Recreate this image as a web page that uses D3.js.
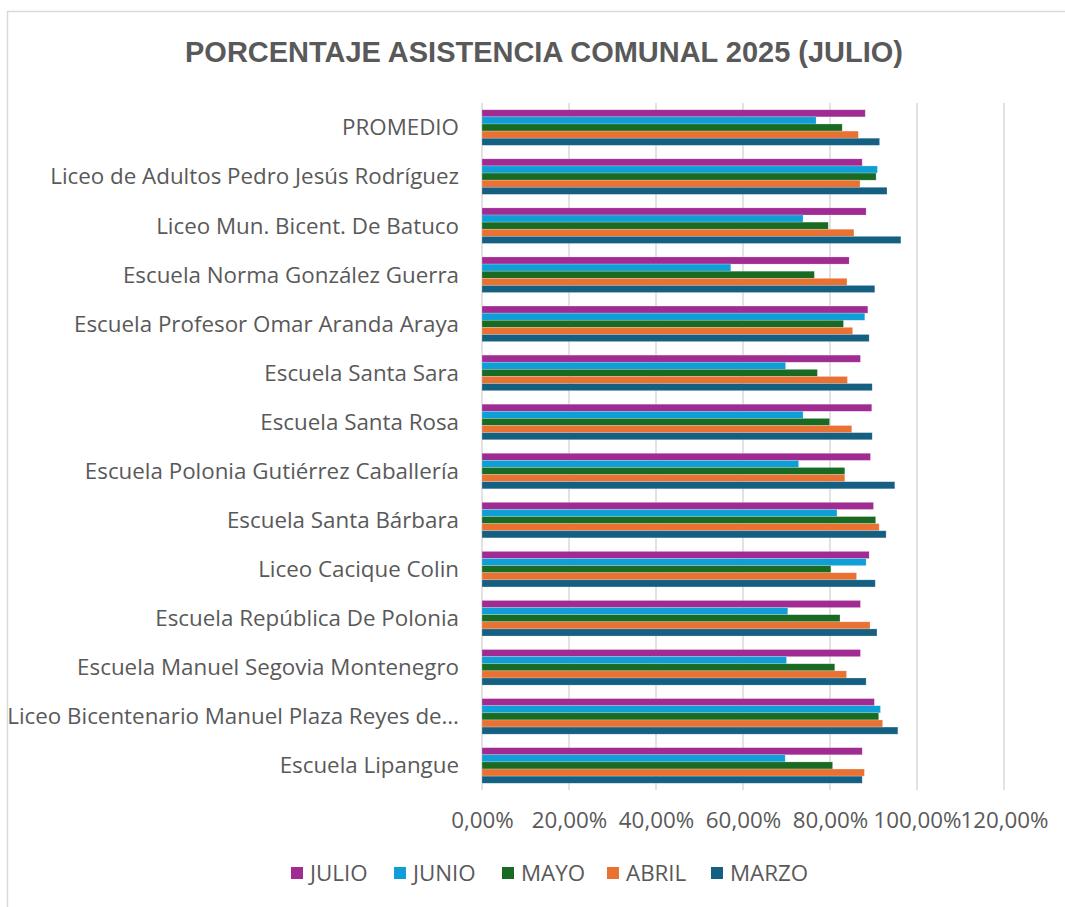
<!DOCTYPE html>
<html><head><meta charset="utf-8">
<script src="https://cdn.jsdelivr.net/npm/d3@7"></script>
<style>
html,body{margin:0;padding:0;background:#fff;}
svg{display:block;}
</style></head>
<body>
<svg id="chart" width="1065" height="907"></svg>
<script>
const title = "PORCENTAJE ASISTENCIA COMUNAL 2025 (JULIO)";
const categories = [
  "PROMEDIO",
  "Liceo de Adultos Pedro Jesús Rodríguez",
  "Liceo Mun. Bicent. De Batuco",
  "Escuela Norma González Guerra",
  "Escuela Profesor Omar Aranda Araya",
  "Escuela Santa Sara",
  "Escuela Santa Rosa",
  "Escuela Polonia Gutiérrez Caballería",
  "Escuela Santa Bárbara",
  "Liceo Cacique Colin",
  "Escuela República De Polonia",
  "Escuela Manuel Segovia Montenegro",
  "Liceo Bicentenario Manuel Plaza Reyes de…",
  "Escuela Lipangue"
];
const seriesNames = ["JULIO", "JUNIO", "MAYO", "ABRIL", "MARZO"];
const seriesColors = ["#A02B93", "#0F9ED5", "#196B24", "#E97132", "#156082"];
const julio = [0.881,0.874,0.883,0.844,0.887,0.870,0.896,0.893,0.900,0.890,0.870,0.870,0.902,0.874];
const junio = [0.768,0.909,0.738,0.572,0.880,0.698,0.738,0.728,0.816,0.883,0.703,0.700,0.916,0.697];
const mayo  = [0.828,0.906,0.796,0.764,0.831,0.771,0.799,0.834,0.905,0.802,0.823,0.811,0.912,0.806];
const abril = [0.865,0.869,0.855,0.839,0.852,0.840,0.850,0.834,0.913,0.861,0.892,0.838,0.921,0.879];
const marzo = [0.914,0.931,0.963,0.903,0.890,0.897,0.897,0.949,0.929,0.904,0.908,0.883,0.956,0.874];
const seriesValues = [julio, junio, mayo, abril, marzo];
const tickValues = [0, 0.2, 0.4, 0.6, 0.8, 1.0, 1.2];
const tickLabels = ["0,00%", "20,00%", "40,00%", "60,00%", "80,00%", "100,00%", "120,00%"];

const svg = d3.select("#chart");
const textColor = "#595959";
const font = "'Open Sans', 'Liberation Sans', sans-serif";

// chart border
svg.append("rect").attr("x", 7.5).attr("y", 11.5).attr("width", 1080).attr("height", 920)
  .attr("fill", "#fff").attr("stroke", "#D9D9D9").attr("stroke-width", 1.5);

const plot = {left: 482, right: 1004, top: 103, bottom: 790};

const x = d3.scaleLinear().domain([0, 1.2]).range([plot.left, plot.right]);
const y = d3.scaleBand().domain(categories).range([plot.top, plot.bottom]).paddingInner(0.38/1.38).paddingOuter(0.19/1.38);
const ySub = d3.scaleBand().domain(seriesNames).range([0, y.bandwidth()]);

// gridlines
svg.append("g").selectAll("line").data(tickValues).join("line")
  .attr("x1", d => x(d)).attr("x2", d => x(d))
  .attr("y1", plot.top).attr("y2", plot.bottom)
  .attr("stroke", "#D9D9D9").attr("stroke-width", 1.5);

// bars
const rows = [];
categories.forEach((c, i) => {
  seriesNames.forEach((s, j) => rows.push({c, s, v: seriesValues[j][i], color: seriesColors[j]}));
});
svg.append("g").selectAll("rect").data(rows).join("rect")
  .attr("x", x(0))
  .attr("y", d => y(d.c) + ySub(d.s))
  .attr("width", d => x(d.v) - x(0))
  .attr("height", ySub.bandwidth())
  .attr("fill", d => d.color)
  .attr("stroke", "rgba(255,255,255,0.35)").attr("stroke-width", 0.6);

// category labels (axis)
const yAxis = d3.axisLeft(y).tickSize(0).tickPadding(0);
const yg = svg.append("g").attr("transform", `translate(${plot.left - 23},0)`).call(yAxis);
yg.select(".domain").remove();
yg.selectAll("text").attr("fill", textColor).attr("font-family", font).attr("font-size", 19)
  .attr("dy", "0.35em");

// fit label font size to reference width
const ref = yg.selectAll("text").filter(d => d === categories[1]).node();
const w = ref.getComputedTextLength();
const fs = 19 * 409 / w;
yg.selectAll("text").attr("font-size", fs);

// x axis labels
const xAxis = d3.axisBottom(x).tickValues(tickValues).tickFormat((d, i) => tickLabels[i]).tickSize(0).tickPadding(0);
const xg = svg.append("g").attr("transform", `translate(0,${plot.bottom})`).call(xAxis);
xg.select(".domain").remove();
xg.selectAll("text").attr("fill", textColor).attr("font-family", font).attr("font-size", fs)
  .attr("y", 38).attr("dy", "0");

// title
const t = svg.append("text").attr("x", 544).attr("y", 62).attr("text-anchor", "middle")
  .attr("fill", textColor).attr("font-family", "'Liberation Sans', Arial, sans-serif")
  .attr("font-weight", "bold").attr("font-size", 25).text(title);
const tw = t.node().getComputedTextLength();
t.attr("font-size", 25 * 718 / tw);

// legend
const legendX = [291, 394, 502, 607, 711];
const lg = svg.append("g").selectAll("g").data(seriesNames).join("g")
  .attr("transform", (d, i) => `translate(${legendX[i]},873)`);
lg.append("rect").attr("x", 0).attr("y", -6).attr("width", 12).attr("height", 12)
  .attr("fill", (d, i) => seriesColors[i]);
lg.append("text").attr("x", 19).attr("y", 0).attr("dy", "0.35em")
  .attr("fill", textColor).attr("font-family", font).attr("font-size", fs).text(d => d);
</script>
</body></html>
